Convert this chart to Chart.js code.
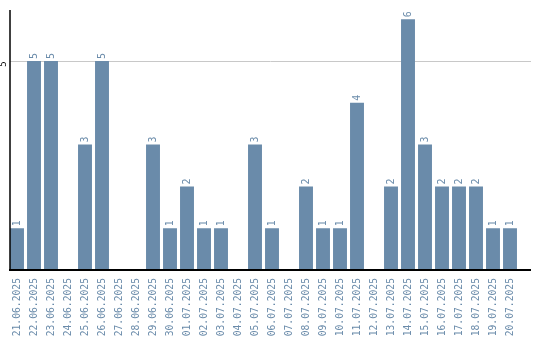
<!DOCTYPE html>
<html><head><meta charset="utf-8">
<script src="https://cdn.jsdelivr.net/npm/chart.js@4/dist/chart.umd.min.js"></script>
<style>html,body{margin:0;padding:0;background:#fff}#wrap{width:540px;height:340px}</style>
</head><body><div id="wrap"><canvas id="c" width="540" height="340"></canvas></div>
<script>
const categories = ["21.06.2025","22.06.2025","23.06.2025","24.06.2025","25.06.2025","26.06.2025","27.06.2025","28.06.2025","29.06.2025","30.06.2025","01.07.2025","02.07.2025","03.07.2025","04.07.2025","05.07.2025","06.07.2025","07.07.2025","08.07.2025","09.07.2025","10.07.2025","11.07.2025","12.07.2025","13.07.2025","14.07.2025","15.07.2025","16.07.2025","17.07.2025","18.07.2025","19.07.2025","20.07.2025"];
const values = [1,5,5,0,3,5,0,0,3,1,2,1,1,0,3,1,0,2,1,1,4,0,2,6,3,2,2,2,1,1];
const yTicks = [5];

const BAR = '#6a8baa';
const axisPlugin = {
  id: 'axisLines',
  beforeDatasetsDraw(chart) {
    const ctx = chart.ctx, y = chart.scales.y;
    ctx.save();
    ctx.strokeStyle = '#c8c8c8'; ctx.lineWidth = 1;
    yTicks.forEach(t => {
      const py = Math.round(y.getPixelForValue(t)) + 0.5;
      ctx.beginPath(); ctx.moveTo(10, py); ctx.lineTo(531, py); ctx.stroke();
    });
    ctx.restore();
  },
  afterDraw(chart) {
    const ctx = chart.ctx, y = chart.scales.y, a = chart.chartArea;
    const base = y.getPixelForValue(0);
    ctx.save();
    ctx.strokeStyle = '#000';
    ctx.lineWidth = 1.5;
    ctx.beginPath(); ctx.moveTo(10, a.top); ctx.lineTo(10, base); ctx.stroke();
    ctx.lineWidth = 2;
    ctx.beginPath(); ctx.moveTo(9, base); ctx.lineTo(531, base); ctx.stroke();
    ctx.fillStyle = '#000';
    ctx.font = '9px "DejaVu Sans Mono"';
    yTicks.forEach(t => {
      const py = y.getPixelForValue(t);
      ctx.save(); ctx.translate(4, py + 3); ctx.rotate(-Math.PI / 2);
      ctx.textAlign = 'center'; ctx.textBaseline = 'middle';
      ctx.fillText(String(t), 0, 0); ctx.restore();
    });
    const meta = chart.getDatasetMeta(0);
    ctx.fillStyle = BAR;
    ctx.font = '10px "DejaVu Sans Mono"';
    meta.data.forEach((bar, i) => {
      const v = values[i]; if (!v) return;
      ctx.save(); ctx.translate(bar.x, bar.y - 2); ctx.rotate(-Math.PI / 2);
      ctx.textAlign = 'left'; ctx.textBaseline = 'middle';
      ctx.fillText(String(v), 0, 0); ctx.restore();
    });
    ctx.restore();
  }
};

new Chart(document.getElementById('c'), {
  type: 'bar',
  data: { labels: categories, datasets: [{ data: values, backgroundColor: BAR, borderWidth: 0, barPercentage: 0.82, categoryPercentage: 1 }] },
  options: {
    responsive: false, animation: false,
    layout: { padding: { left: 8.5, right: 21.5, top: 10, bottom: 0 } },
    plugins: { legend: { display: false }, tooltip: { enabled: false } },
    scales: {
      x: {
        grid: { display: false, drawTicks: false, tickLength: 0 }, border: { display: false },
        afterFit(scale) { scale.height = 70; },
        ticks: { autoSkip: false, minRotation: 90, maxRotation: 90, padding: 8, color: BAR, font: { family: '"DejaVu Sans Mono"', size: 9.7 } }
      },
      y: { display: false, min: 0, max: 6.22 }
    }
  },
  plugins: [axisPlugin]
});
</script></body></html>
